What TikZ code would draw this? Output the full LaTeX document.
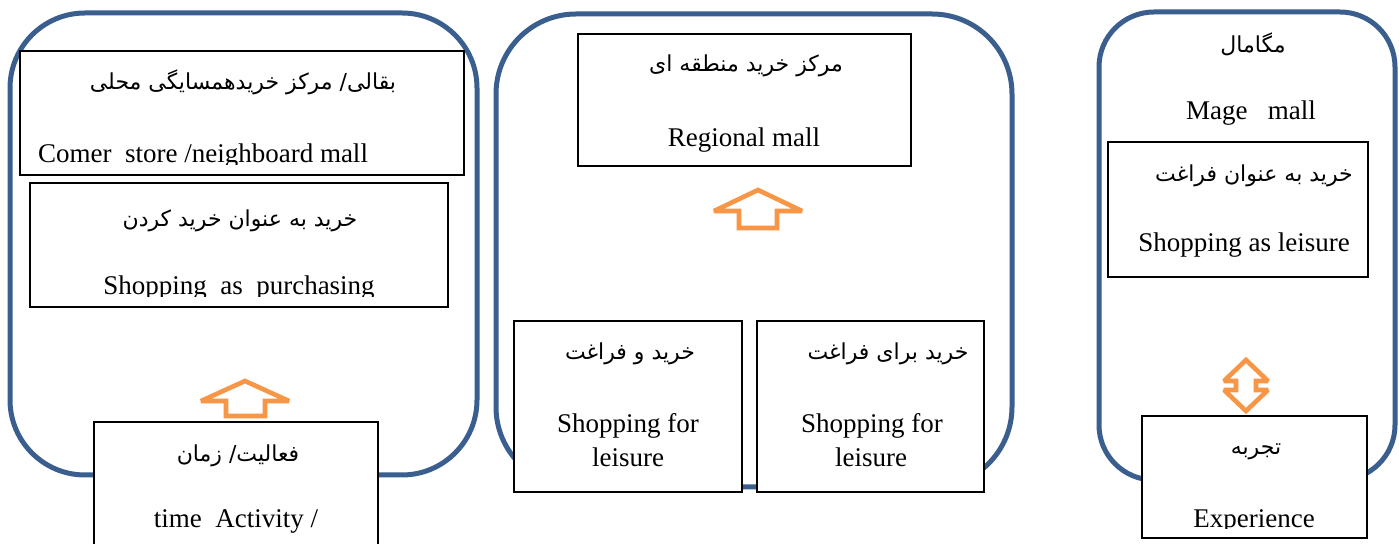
\documentclass[tikz,border=0pt]{standalone}
\usepackage{fontspec}
\setmainfont{Liberation Serif}
\newfontfamily\persian[Script=Arabic]{DejaVu Sans}
\TeXXeTstate=1
\definecolor{panelblue}{HTML}{3A5F8E}
\definecolor{arroworange}{HTML}{F79646}
\begin{document}
\begin{tikzpicture}[x=0.5pt,y=-0.5pt,
    panel/.style={draw=panelblue, line width=2.5pt, rectangle, inner sep=0pt},
    box/.style={draw=black, line width=0.7pt, fill=white, rectangle, inner sep=0pt},
    fa/.style={font=\persian\fontsize{11}{13}\selectfont, anchor=base, inner sep=0pt},
    en/.style={font=\fontsize{13.5}{16}\selectfont, anchor=base, inner sep=0pt},
    hollow/.style={draw=arroworange, line width=2.3pt, fill=white, line join=miter, miter limit=2}]
    \clip (0,0) rectangle (1399,544);
    \fill[white] (0,0) rectangle (1399,544);
    % three panels
    \node[panel, rounded corners=37.5pt, minimum width=233.5pt, minimum height=231pt] (local) at (243.5,244) {};
    \node[panel, rounded corners=40pt, minimum width=258pt, minimum height=236.5pt] (regional) at (754,250.5) {};
    \node[panel, rounded corners=27.5pt, minimum width=148pt, minimum height=234pt] (mega) at (1247,246) {};
    % left panel
    \node[box, minimum width=222pt, minimum height=62pt] (corner) at (242,113) {};
    \node[fa] (cornerfa) at (243,90) {\beginR بقالی/ مرکز خریدهمسایگی محلی\endR};
    \begin{scope}
    \clip (20,51) rectangle (464,165);
    \node[en] (corneren) at (203,163) {Comer\ \ store /neighboard mall};
    \end{scope}
    \node[box, minimum width=209pt, minimum height=62pt] (purchase) at (239,245) {};
    \node[fa] (purchasefa) at (240,227) {\beginR خرید به عنوان خرید کردن\endR};
    \begin{scope}
    \clip (30,183) rectangle (448,297);
    \node[en] (purchaseen) at (239,295) {Shopping\ \ as\ \ purchasing};
    \end{scope}
    \draw[hollow] (245,381) -- (289,401) -- (265,401) -- (265,416) -- (226,416) -- (226,401) -- (201,401) -- cycle;
    \node[box, minimum width=142pt, minimum height=69pt] (activity) at (236,491) {};
    \node[fa] (activityfa) at (238,462) {\beginR فعالیت/ زمان\endR};
    \node[en] (activityen) at (236,528) {time\ \ Activity /};
    % middle panel
    \node[box, minimum width=166.5pt, minimum height=66pt] (regionalbox) at (744.5,100) {};
    \node[fa] (regionalfa) at (746,72) {\beginR مرکز خرید منطقه ای\endR};
    \node[en] (regionalen) at (744,147) {Regional mall};
    \draw[hollow] (758,190) -- (802,211) -- (777,211) -- (777,228) -- (739,228) -- (739,211) -- (714,211) -- cycle;
    \node[box, minimum width=114pt, minimum height=85.5pt] (andleisure) at (628,406.5) {};
    \node[fa] (andleisurefa) at (630,360) {\beginR خرید و فراغت\endR};
    \node[en] (andleisureen) at (628,433) {Shopping for};
    \node[en] (andleisureen2) at (628,467) {leisure};
    \node[box, minimum width=113.5pt, minimum height=85.5pt] (forleisure) at (870.5,406.5) {};
    \node[fa] (forleisurefa) at (888,360) {\beginR خرید برای فراغت\endR};
    \node[en] (forleisureen) at (872,433) {Shopping for};
    \node[en] (forleisureen2) at (871,467) {leisure};
    % right panel
    \node[fa] (megafa) at (1253,53) {\beginR مگامال\endR};
    \node[en] (megaen) at (1251,120) {Mage\ \ \ mall};
    \node[box, minimum width=130pt, minimum height=67.5pt] (asleisure) at (1238,209.5) {};
    \node[fa] (asleisurefa) at (1254,182) {\beginR خرید به عنوان فراغت\endR};
    \node[en] (asleisureen) at (1244,252) {Shopping as leisure};
    \draw[hollow] (1246,360) -- (1268,381) -- (1256,381) -- (1256,390) -- (1268,390) -- (1246,411) -- (1224,390) -- (1236,390) -- (1236,381) -- (1224,381) -- cycle;
    \node[box, minimum width=112.5pt, minimum height=61pt] (experience) at (1254.5,477) {};
    \node[fa] (experiencefa) at (1256,455) {\beginR تجربه\endR};
    \begin{scope}
    \clip (1142,416) rectangle (1367,529);
    \node[en] (experienceen) at (1254,528) {Experience};
    \end{scope}
\end{tikzpicture}
\end{document}
